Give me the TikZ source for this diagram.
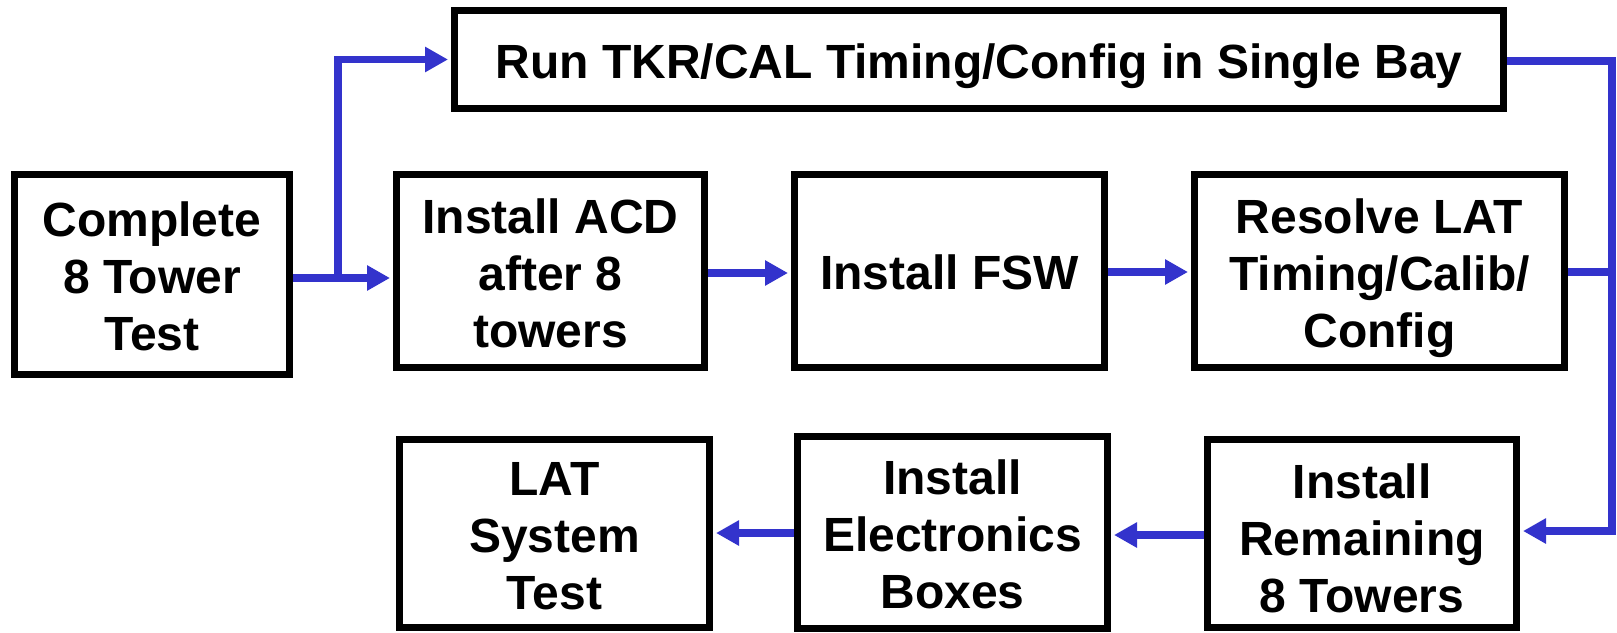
\documentclass[tikz,border=0pt]{standalone}
\usepackage{fontspec}
\setmainfont{Liberation Sans}
\usetikzlibrary{arrows.meta}
\definecolor{flowblue}{HTML}{3333CC}
\begin{document}
\begin{tikzpicture}[x=1pt,y=-1pt,
  box/.style={draw=black,line width=7pt,rectangle,inner sep=0pt},
  boxtext/.style={align=center,inner sep=0pt,text depth=0pt,
    font=\fontsize{48}{57}\selectfont\bfseries},
  flow/.style={draw=flowblue,line width=7.5pt},
  flowarrow/.style={flow,shorten >=3pt,-{Triangle[length=23pt,width=24pt]}}]
\useasboundingbox (0,0) rectangle (1617,632);
\node[box,minimum width=1049pt,minimum height=98pt] (run) at (979,59.5) {};
\node[box,minimum width=275pt,minimum height=200pt] (complete) at (152,274.5) {};
\node[box,minimum width=308pt,minimum height=193pt] (acd) at (550.5,271) {};
\node[box,minimum width=310pt,minimum height=193pt] (fsw) at (949.5,271) {};
\node[box,minimum width=370pt,minimum height=193pt] (resolve) at (1379.5,271) {};
\node[box,minimum width=310pt,minimum height=188pt] (lat) at (554.5,533.5) {};
\node[box,minimum width=310pt,minimum height=192pt] (elec) at (952.5,532.5) {};
\node[box,minimum width=309pt,minimum height=188pt] (remain) at (1362,533.5) {};
\node[boxtext] (runtext) at ([yshift=-2pt]run.center) {Run TKR/CAL Timing/Config in Single Bay};
\node[boxtext] (completetext) at ([yshift=-2pt]complete.center) {Complete\\8 Tower\\Test};
\node[boxtext] (acdtext) at ([yshift=-2pt]acd.center) {Install ACD\\after 8\\towers};
\node[boxtext] (fswtext) at ([yshift=-1pt]fsw.center) {Install FSW};
\node[boxtext] (resolvetext) at ([yshift=-2pt]resolve.center) {Resolve LAT\\Timing/Calib/\\Config};
\node[boxtext] (lattext) at ([yshift=-2pt]lat.center) {LAT\\System\\Test};
\node[boxtext] (electext) at ([yshift=-2pt]elec.center) {Install\\Electronics\\Boxes};
\node[boxtext] (remaintext) at ([yshift=-5pt]remain.center) {Install\\Remaining\\8 Towers};
\coordinate (split) at (338,278);
\coordinate (rail) at (1612,0);
\draw[flowarrow] (complete.east |- split) -- (acd.west |- split);
\draw[flowarrow] (split) |- (run.west);
\draw[flowarrow] (acd.east |- 0,273) -- (fsw.west |- 0,273);
\draw[flowarrow] (fsw.east |- 0,272) -- (resolve.west |- 0,272);
\draw[flowarrow] (run.east |- 0,61) -| (rail |- 0,100) |- (remain.east |- 0,531);
\draw[flow] (resolve.east |- 0,272) -- (rail |- 0,272);
\draw[flowarrow] (remain.west |- 0,535) -- (elec.east |- 0,535);
\draw[flowarrow] (elec.west |- 0,533) -- (lat.east |- 0,533);
\end{tikzpicture}
\end{document}
